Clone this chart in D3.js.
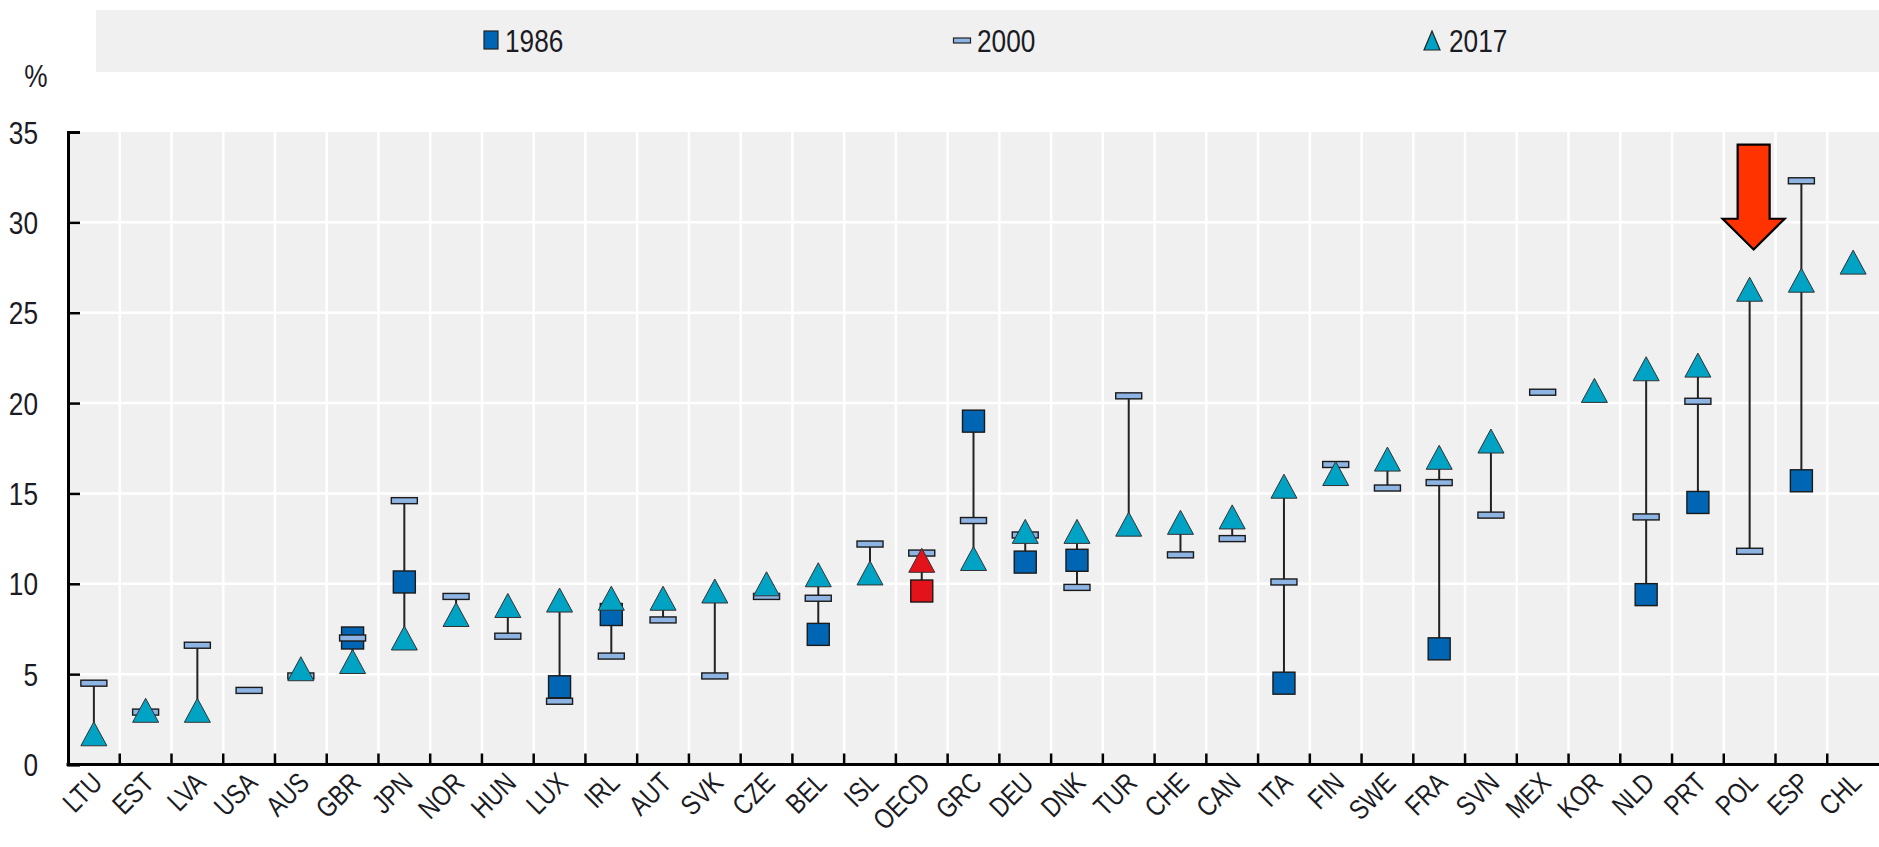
<!DOCTYPE html>
<html>
<head>
<meta charset="utf-8">
<title>Dot range chart 1986 / 2000 / 2017</title>
<script src="https://d3js.org/d3.v7.min.js"></script>
<style>
  body, html { margin: 0; padding: 0; background: #fff; }
  svg { display: block; }
  text { font-family: "Liberation Sans", Arial, sans-serif; fill: #1b1b24; }
</style>
</head>
<body>
<svg id="chart" width="1879" height="847"></svg>
<script>
// data (null = no value)
const countries = ["LTU","EST","LVA","USA","AUS","GBR","JPN","NOR","HUN","LUX","IRL","AUT","SVK","CZE","BEL","ISL","OECD","GRC","DEU","DNK","TUR","CHE","CAN","ITA","FIN","SWE","FRA","SVN","MEX","KOR","NLD","PRT","POL","ESP","CHL"];
const v1986 = [null,null,null,null,null,7.0,10.1,null,null,4.3,8.3,null,null,null,7.2,null,9.6,19.0,11.2,11.3,null,null,null,4.5,null,null,6.4,null,null,null,9.4,14.5,null,15.7,null];
const v2000 = [4.5,2.9,6.6,4.1,4.9,7.0,14.6,9.3,7.1,3.5,6.0,8.0,4.9,9.3,9.2,12.2,11.7,13.5,12.7,9.8,20.4,11.6,12.5,10.1,16.6,15.3,15.6,13.8,20.6,null,13.7,20.1,11.8,32.3,null];
const v2017 = [1.7,3.0,3.0,null,5.3,5.7,7.0,8.3,8.8,9.1,9.2,9.2,9.6,10.0,10.5,10.6,11.3,11.4,12.9,12.9,13.3,13.4,13.7,15.4,16.1,16.9,17.0,17.9,null,20.7,21.9,22.1,26.3,26.8,27.8];
const yTicks = [0,5,10,15,20,25,30,35];
const highlight = "OECD";
// red arrow over POL, in data units
const arrowCountry = "POL";
const arrowTop = 34.3, arrowNeck = 30.2, arrowTip = 28.5;

const C1986 = "#0066b3", C2000 = "#8db4e2", C2017 = "#00a3c4", CRED = "#e3131b";
const NARROW = 0.82; // Arial Narrow look

const svg = d3.select("#chart");
const x = d3.scaleBand().domain(countries).range([68, 1879]);
const y = d3.scaleLinear().domain([0, 35]).range([764.5, 132]);
const bw = x.bandwidth();

// plot background + grid
svg.append("rect").attr("x", 68).attr("y", y(35)).attr("width", 1879 - 68).attr("height", y(0) - y(35)).attr("fill", "#f0f0f0");
svg.append("g").selectAll("line").data(yTicks.filter(d => d > 0 && d < 35)).join("line")
  .attr("x1", 68).attr("x2", 1879).attr("y1", d => y(d)).attr("y2", d => y(d))
  .attr("stroke", "#fff").attr("stroke-width", 2.5);
svg.append("g").selectAll("line").data(countries.slice(1)).join("line")
  .attr("x1", d => x(d)).attr("x2", d => x(d)).attr("y1", y(35)).attr("y2", y(0))
  .attr("stroke", "#fff").attr("stroke-width", 2.5);

// legend
svg.append("rect").attr("x", 96).attr("y", 10).attr("width", 1879 - 96).attr("height", 62).attr("fill", "#f0f0f0");
const leg = svg.append("g");
leg.append("rect").attr("x", 491 - 7).attr("y", 31).attr("width", 14).attr("height", 18)
  .attr("fill", C1986).attr("stroke", "#222").attr("stroke-width", 1.2);
leg.append("rect").attr("x", 962 - 8.5).attr("y", 38).attr("width", 17).attr("height", 5)
  .attr("fill", C2000).attr("stroke", "#222").attr("stroke-width", 1.2);
leg.append("path").attr("d", `M${1432},31 L${1440},50 L${1424},50 Z`)
  .attr("fill", C2017).attr("stroke", "#222").attr("stroke-width", 1.2);
[["1986", 505], ["2000", 977], ["2017", 1449]].forEach(([t, tx]) => {
  leg.append("text").attr("transform", `translate(${tx},51.5) scale(${NARROW},1)`)
    .attr("font-size", 32).text(t);
});

// y axis
const yAxis = svg.append("g").attr("transform", "translate(68,0)")
  .call(d3.axisLeft(y).tickValues(yTicks).tickSize(-12).tickPadding(0));
yAxis.select(".domain").attr("stroke", "#000").attr("stroke-width", 3);
yAxis.selectAll(".tick line").attr("stroke", "#000").attr("stroke-width", 2.5);
yAxis.selectAll(".tick text")
  .attr("x", null).attr("dy", null)
  .attr("transform", `translate(-30,11) scale(${NARROW},1)`)
  .attr("font-size", 32).attr("fill", "#1b1b24");
svg.append("text").attr("transform", `translate(36,87) scale(${NARROW},1)`)
  .attr("text-anchor", "middle").attr("font-size", 32).text("%");

// x axis: line, boundary ticks, rotated labels
svg.append("line").attr("x1", 66.5).attr("x2", 1879).attr("y1", y(0)).attr("y2", y(0))
  .attr("stroke", "#000").attr("stroke-width", 3);
svg.append("g").selectAll("line").data(countries.slice(1)).join("line")
  .attr("x1", d => x(d)).attr("x2", d => x(d)).attr("y1", y(0)).attr("y2", y(0) - 11)
  .attr("stroke", "#000").attr("stroke-width", 2.5);
// labels turned by CSS transform
svg.append("g").selectAll("text").data(countries).join("text")
  .style("transform", d => `translate(${x(d) + bw / 2 + 10}px, ${y(0) + 20}px) rotate(-45deg) scale(${NARROW}, 1)`)
  .style("transform-origin", "0 0")
  .attr("text-anchor", "end")
  .attr("font-size", 28)
  .text(d => d);

// marks
const rows = countries.map((c, i) => ({ c, a: v1986[i], b: v2000[i], t: v2017[i] }));
const cx = d => x(d.c) + bw / 2;
const marks = svg.append("g");

rows.forEach(d => {
  const vals = [d.a, d.b, d.t].filter(v => v != null);
  if (vals.length > 1) {
    marks.append("line").attr("x1", cx(d)).attr("x2", cx(d))
      .attr("y1", y(d3.min(vals))).attr("y2", y(d3.max(vals)))
      .attr("stroke", "#222").attr("stroke-width", 2);
  }
});

const sq = 22;
marks.selectAll(".m1986").data(rows.filter(d => d.a != null)).join("rect")
  .attr("x", d => cx(d) - sq / 2).attr("y", d => y(d.a) - sq / 2)
  .attr("width", sq).attr("height", sq)
  .attr("fill", d => d.c === highlight ? CRED : C1986).attr("stroke", "#1a1a1a").attr("stroke-width", 1.4);

marks.selectAll(".m2000").data(rows.filter(d => d.b != null)).join("rect")
  .attr("x", d => cx(d) - 13).attr("y", d => y(d.b) - 3)
  .attr("width", 26).attr("height", 6)
  .attr("fill", C2000).attr("stroke", "#1a1a1a").attr("stroke-width", 1.4);

const tw = 26, th = 24;
marks.selectAll(".m2017").data(rows.filter(d => d.t != null)).join("path")
  .attr("d", d => {
    const px = cx(d), py = y(d.t);
    return `M${px},${py - th / 2} L${px + tw / 2},${py + th / 2} L${px - tw / 2},${py + th / 2} Z`;
  })
  .attr("fill", d => d.c === highlight ? CRED : C2017).attr("stroke", "#333").attr("stroke-width", 1);

// arrow annotation
const ax = x(arrowCountry) + bw / 2 + 4;
const shaft = 16, head = 31;
svg.append("path")
  .attr("d", `M${ax - shaft},${y(arrowTop)} L${ax + shaft},${y(arrowTop)} L${ax + shaft},${y(arrowNeck)}
    L${ax + head},${y(arrowNeck)} L${ax},${y(arrowTip)} L${ax - head},${y(arrowNeck)}
    L${ax - shaft},${y(arrowNeck)} Z`)
  .attr("fill", "#ff3300").attr("stroke", "#000").attr("stroke-width", 2.2);
</script>
</body>
</html>
